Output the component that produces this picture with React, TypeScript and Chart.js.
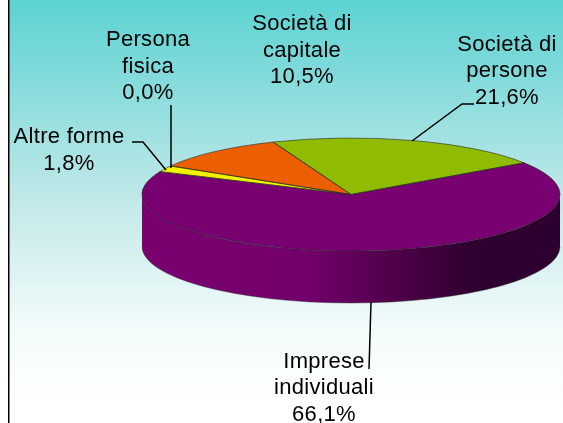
import React, { useEffect, useRef } from "react";
import { Chart, registerables } from "chart.js";

Chart.register(...registerables);

const categories = ["Imprese individuali", "Altre forme", "Persona fisica", "Società di capitale", "Società di persone"];
const values = [66.1, 1.8, 0.0, 10.5, 21.6];
const sliceColors = ["#780070", "#F2F200", "#FFFFFF", "#EB5F00", "#8FBC00"];
const labelLines = [
  ["Imprese", "individuali"],
  ["Altre forme"],
  ["Persona", "fisica"],
  ["Società di", "capitale"],
  ["Società di", "persone"],
];
const labelAnchors = [
  [324, 367.5],
  [69, 143],
  [148, 46],
  [302, 30],
  [507, 50.5],
];
const leaders = [
  [[371, 302], [369, 369]],
  [[132, 142], [143, 142], [166, 170]],
  [[171, 105], [171, 168]],
  [],
  [[474, 104], [462, 104], [412, 141]],
];

const CX = 351, CY = 194.5, RX = 209, RY = 56.5, DEPTH = 52;
const FONT = '22px "Liberation Sans", Arial, sans-serif';
const LINE_H = 26.5;

const pct = (v: number) => v.toFixed(1).replace(".", ",") + "%";

const pie3d = {
  id: "pie3d",
  beforeDraw(chart: any) {
    const { ctx, width, height } = chart;
    ctx.save();
    ctx.fillStyle = "#fff";
    ctx.fillRect(0, 0, width, height);
    const g = ctx.createLinearGradient(0, 0, 0, 410);
    g.addColorStop(0, "#5CD2D2");
    g.addColorStop(0.5, "#C4E9E9");
    g.addColorStop(0.8, "#F3FBFB");
    g.addColorStop(1, "#FFFFFF");
    ctx.fillStyle = g;
    ctx.fillRect(9, 0, width - 9, height);
    ctx.fillStyle = "#000";
    ctx.fillRect(8, 0, 1.5, height);
    ctx.restore();
  },
  beforeDatasetsDraw(chart: any) {
    const { ctx } = chart;
    const arcs = chart.getDatasetMeta(0).data;
    const grad = ctx.createLinearGradient(CX - RX, 0, CX + RX, 0);
    grad.addColorStop(0, "#7A0070");
    grad.addColorStop(0.4, "#72006A");
    grad.addColorStop(0.62, "#4C0048");
    grad.addColorStop(0.78, "#300030");
    grad.addColorStop(1, "#2C002E");
    ctx.save();
    arcs.forEach((arc: any) => {
      const { startAngle, endAngle } = arc.getProps(["startAngle", "endAngle"], true);
      for (const off of [0, 2 * Math.PI]) {
        const a0 = Math.max(startAngle, off);
        const a1 = Math.min(endAngle, off + Math.PI);
        if (a1 <= a0) continue;
        ctx.beginPath();
        ctx.ellipse(CX, CY, RX, RY, 0, a0, a1);
        ctx.ellipse(CX, CY + DEPTH, RX, RY, 0, a1, a0, true);
        ctx.closePath();
        ctx.fillStyle = grad;
        ctx.fill();
        ctx.strokeStyle = "rgba(60,60,60,0.55)";
        ctx.lineWidth = 0.8;
        ctx.beginPath();
        ctx.ellipse(CX, CY + DEPTH, RX, RY, 0, a0, a1);
        ctx.stroke();
      }
    });
    ctx.restore();
    const first = arcs[0].getProps(["x", "y", "outerRadius"], true);
    ctx.save();
    ctx.translate(CX, CY);
    ctx.scale(RX / first.outerRadius, RY / first.outerRadius);
    ctx.translate(-first.x, -first.y);
  },
  afterDatasetsDraw(chart: any) {
    const { ctx } = chart;
    ctx.restore();
    const arcs = chart.getDatasetMeta(0).data;
    ctx.save();
    ctx.strokeStyle = "rgba(40,40,40,0.6)";
    ctx.lineWidth = 1;
    arcs.forEach((arc: any, i: number) => {
      const { startAngle, endAngle } = arc.getProps(["startAngle", "endAngle"], true);
      if (values[i] === 0) return;
      ctx.beginPath();
      ctx.moveTo(CX, CY);
      ctx.ellipse(CX, CY, RX, RY, 0, startAngle, endAngle);
      ctx.closePath();
      ctx.stroke();
    });
    ctx.strokeStyle = "#000";
    ctx.lineWidth = 1.5;
    leaders.forEach((pts) => {
      if (!pts.length) return;
      ctx.beginPath();
      pts.forEach(([x, y], k) => (k ? ctx.lineTo(x, y) : ctx.moveTo(x, y)));
      ctx.stroke();
    });
    ctx.fillStyle = "#000";
    ctx.font = FONT;
    ctx.letterSpacing = "0.3px";
    ctx.textAlign = "center";
    ctx.textBaseline = "alphabetic";
    categories.forEach((_, i) => {
      const lines = [...labelLines[i], pct(values[i])];
      const [x, y] = labelAnchors[i];
      lines.forEach((t, k) => ctx.fillText(t, x, y + k * LINE_H));
    });
    ctx.restore();
  },
};

export default function App() {
  const ref = useRef<HTMLCanvasElement>(null);
  useEffect(() => {
    const chart = new Chart(ref.current!, {
      type: "pie",
      data: {
        labels: categories,
        datasets: [{ data: values, backgroundColor: sliceColors, borderWidth: 0, clip: false } as any],
      },
      options: {
        responsive: false,
        animation: false,
        rotation: 55.9,
        events: [],
        layout: { padding: { left: 161, right: 22, top: 4.5, bottom: 38.5 } },
        plugins: { legend: { display: false }, tooltip: { enabled: false } },
      },
      plugins: [pie3d],
    });
    return () => chart.destroy();
  }, []);
  return (
    <canvas
      ref={ref}
      width={563}
      height={423}
      style={{ position: "absolute", left: 0, top: 0, width: 563, height: 423 }}
    />
  );
}
